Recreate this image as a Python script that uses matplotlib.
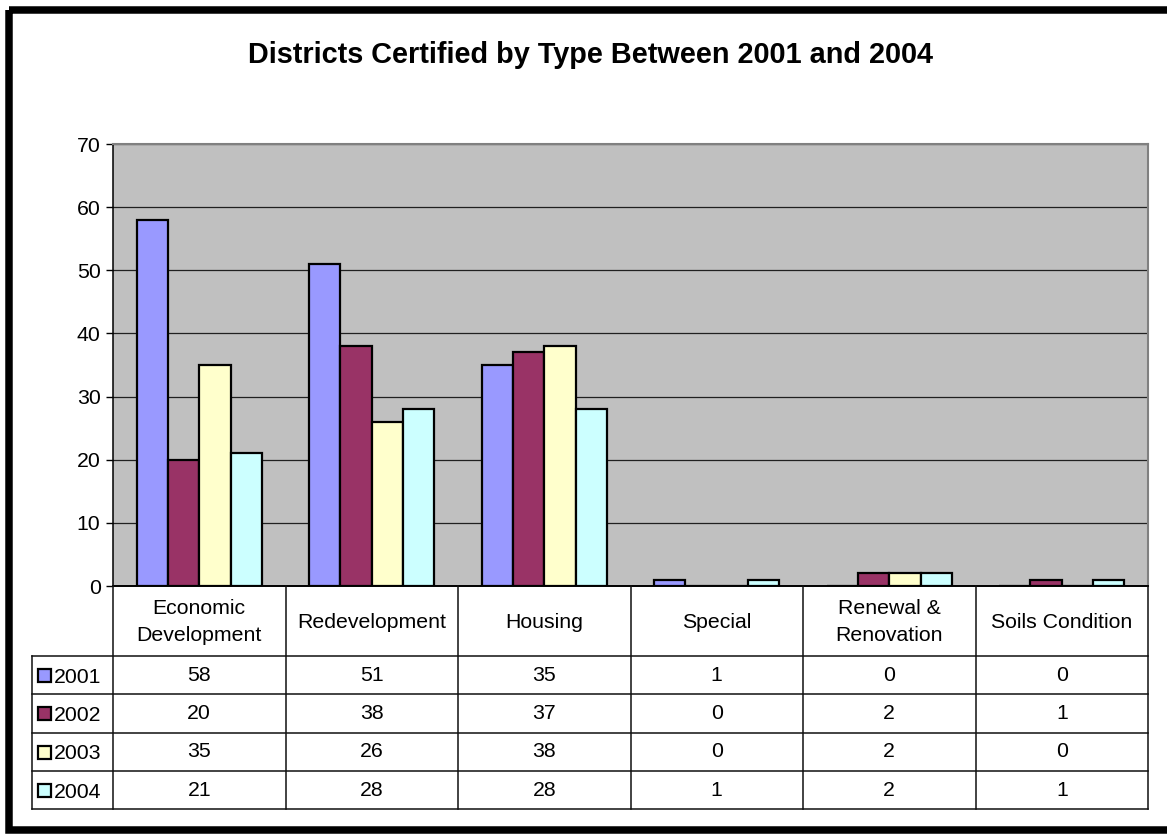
import matplotlib
matplotlib.use("Agg")
import matplotlib.pyplot as plt
from matplotlib.patches import Rectangle

plt.rcParams['font.family'] = ['Liberation Sans', 'DejaVu Sans']

# Data
categories = ["Economic\nDevelopment", "Redevelopment", "Housing", "Special",
              "Renewal &\nRenovation", "Soils Condition"]
years = ["2001", "2002", "2003", "2004"]
v2001 = [58, 51, 35, 1, 0, 0]
v2002 = [20, 38, 37, 0, 2, 1]
v2003 = [35, 26, 38, 0, 2, 0]
v2004 = [21, 28, 28, 1, 2, 1]
series = [v2001, v2002, v2003, v2004]
colors = ["#9999FF", "#993366", "#FFFFCC", "#CCFFFF"]
yticks = [0, 10, 20, 30, 40, 50, 60, 70]
title = "Districts Certified by Type Between 2001 and 2004"

W, H = 1167, 835
fig = plt.figure(figsize=(W / 100, H / 100), dpi=100)
fig.patch.set_facecolor("white")

FS = 15.3

# Plot area in pixel units
px_l, px_r, px_t, px_b = 113, 1148, 144, 586


def fx(x):
    return x / W


def fy(y):
    return 1 - y / H


ax = fig.add_axes([fx(px_l), fy(px_b), fx(px_r) - fx(px_l), fy(px_t) - fy(px_b)])
ax.set_facecolor("#C0C0C0")
n_cat = len(categories)
n_ser = len(series)
gap = 1.5
bw = 1.0 / (n_ser + gap)
for i, (vals, c) in enumerate(zip(series, colors)):
    xs = [k + gap * bw / 2 + i * bw for k in range(n_cat)]
    ax.bar(xs, vals, width=bw, align="edge", color=c, edgecolor="black",
           linewidth=1.6, zorder=3)
ax.set_xlim(0, n_cat)
ax.set_ylim(0, 70)
ax.set_yticks(yticks)
ax.set_xticks([])
ax.yaxis.grid(True, color="#202020", linewidth=0.9, zorder=1)
ax.set_axisbelow(True)
ax.tick_params(axis="y", length=5, width=1, pad=4, labelsize=FS, color="black")
for s in ["top", "right"]:
    ax.spines[s].set_color("#808080")
    ax.spines[s].set_linewidth(1.5)
ax.spines["left"].set_color("black")
ax.spines["left"].set_linewidth(1.1)
ax.spines["bottom"].set_color("black")
ax.spines["bottom"].set_linewidth(1.4)

# Overlay in pixel coordinates for title, data table and frame
ov = fig.add_axes([0, 0, 1, 1], facecolor="none")
ov.set_xlim(0, W)
ov.set_ylim(H, 0)
ov.axis("off")

ov.text(591, 55, title, ha="center", va="center",
        fontsize=20.8, fontweight="bold")

# Data table
col_w = (px_r - px_l) / n_cat
hdr_b = 656
row_h = 38.3
lab_l = 32
table_b = hdr_b + n_ser * row_h
lc = "#101010"
lw = 1.1
for k in range(n_cat + 1):
    x = px_l + k * col_w
    ov.plot([x, x], [px_b, table_b], color=lc, lw=lw)
ov.plot([lab_l, lab_l], [hdr_b, table_b], color=lc, lw=lw)
for r in range(n_ser + 1):
    y = hdr_b + r * row_h
    ov.plot([lab_l, px_r], [y, y], color=lc, lw=lw)

for k, cat in enumerate(categories):
    cx = px_l + (k + 0.5) * col_w
    ov.text(cx, (px_b + hdr_b) / 2 + 1, cat, ha="center", va="center",
            fontsize=FS, linespacing=1.55)
    for r, vals in enumerate(series):
        cy = hdr_b + (r + 0.5) * row_h
        ov.text(cx, cy, str(vals[k]), ha="center", va="center", fontsize=FS)

for r, (yr, c) in enumerate(zip(years, colors)):
    cy = hdr_b + (r + 0.5) * row_h
    ov.add_patch(Rectangle((38, cy - 6), 13, 13, facecolor=c,
                           edgecolor="black", linewidth=1.6))
    ov.text(54, cy + 2, yr, ha="left", va="center", fontsize=FS)

# Outer frame
ov.add_patch(Rectangle((8.5, 9.5), W + 20, H - 15, facecolor="none",
                       edgecolor="black", linewidth=5.4))

fig.savefig("out.png", dpi=100)
